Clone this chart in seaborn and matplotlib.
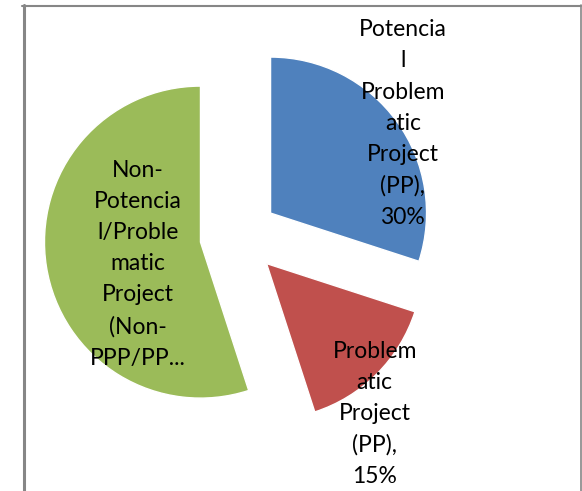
import seaborn as sns
import matplotlib.pyplot as plt
from matplotlib.lines import Line2D

# data
categories = ["Potencial Problematic Project (PP)",
              "Problematic Project (PP)",
              "Non-Potencial/Problematic Project (Non-PPP/PP...)"]
values = [30, 15, 55]
labels = ["Potencia\nl\nProblem\natic\nProject\n(PP),\n30%",
          "Problem\natic\nProject\n(PP),\n15%",
          "Non-\nPotencia\nl/Proble\nmatic\nProject\n(Non-\nPPP/PP..."]
colors = ["#4F81BD", "#C0504D", "#9BBB59"]

# where the wrapped labels sit (data units, radius = 1)
label_pos = [(1.05, 0.72), (0.87, -1.14), (-0.65, -0.18)]

sns.set_style("white")
plt.rcParams['font.family'] = ['Lato', 'DejaVu Sans']

fig = plt.figure(figsize=(5.82, 4.91), dpi=100)
ax = fig.add_axes([0, 0, 1, 1])

wedges, texts = ax.pie(
    values,
    labels=labels,
    colors=sns.color_palette(colors),
    startangle=90,
    counterclock=False,
    explode=[0.25, 0.25, 0.25],
    textprops=dict(fontsize=16.5, color="black", ha="center", va="center",
                   linespacing=1.6),
)
for t, (x, y) in zip(texts, label_pos):
    t.set_position((x, y))
    t.set_ha("center")
    t.set_va("center")

ax.set_aspect("equal", adjustable="box")
ax.set_xlim(-239 / 156, (582 - 239) / 156)
ax.set_ylim((236 - 491) / 156, 236 / 156)
ax.axis("off")

# chart frame
gray = "#868686"
fig.add_artist(Line2D([23.5 / 582, 23.5 / 582], [0, 1 - 5 / 491], color=gray, lw=2.2))
fig.add_artist(Line2D([22 / 582, 581 / 582], [1 - 5.5 / 491, 1 - 5.5 / 491], color=gray, lw=1.5))
fig.add_artist(Line2D([580.5 / 582, 580.5 / 582], [0, 1 - 5 / 491], color=gray, lw=1.2))

plt.savefig("out.png", dpi=100)
